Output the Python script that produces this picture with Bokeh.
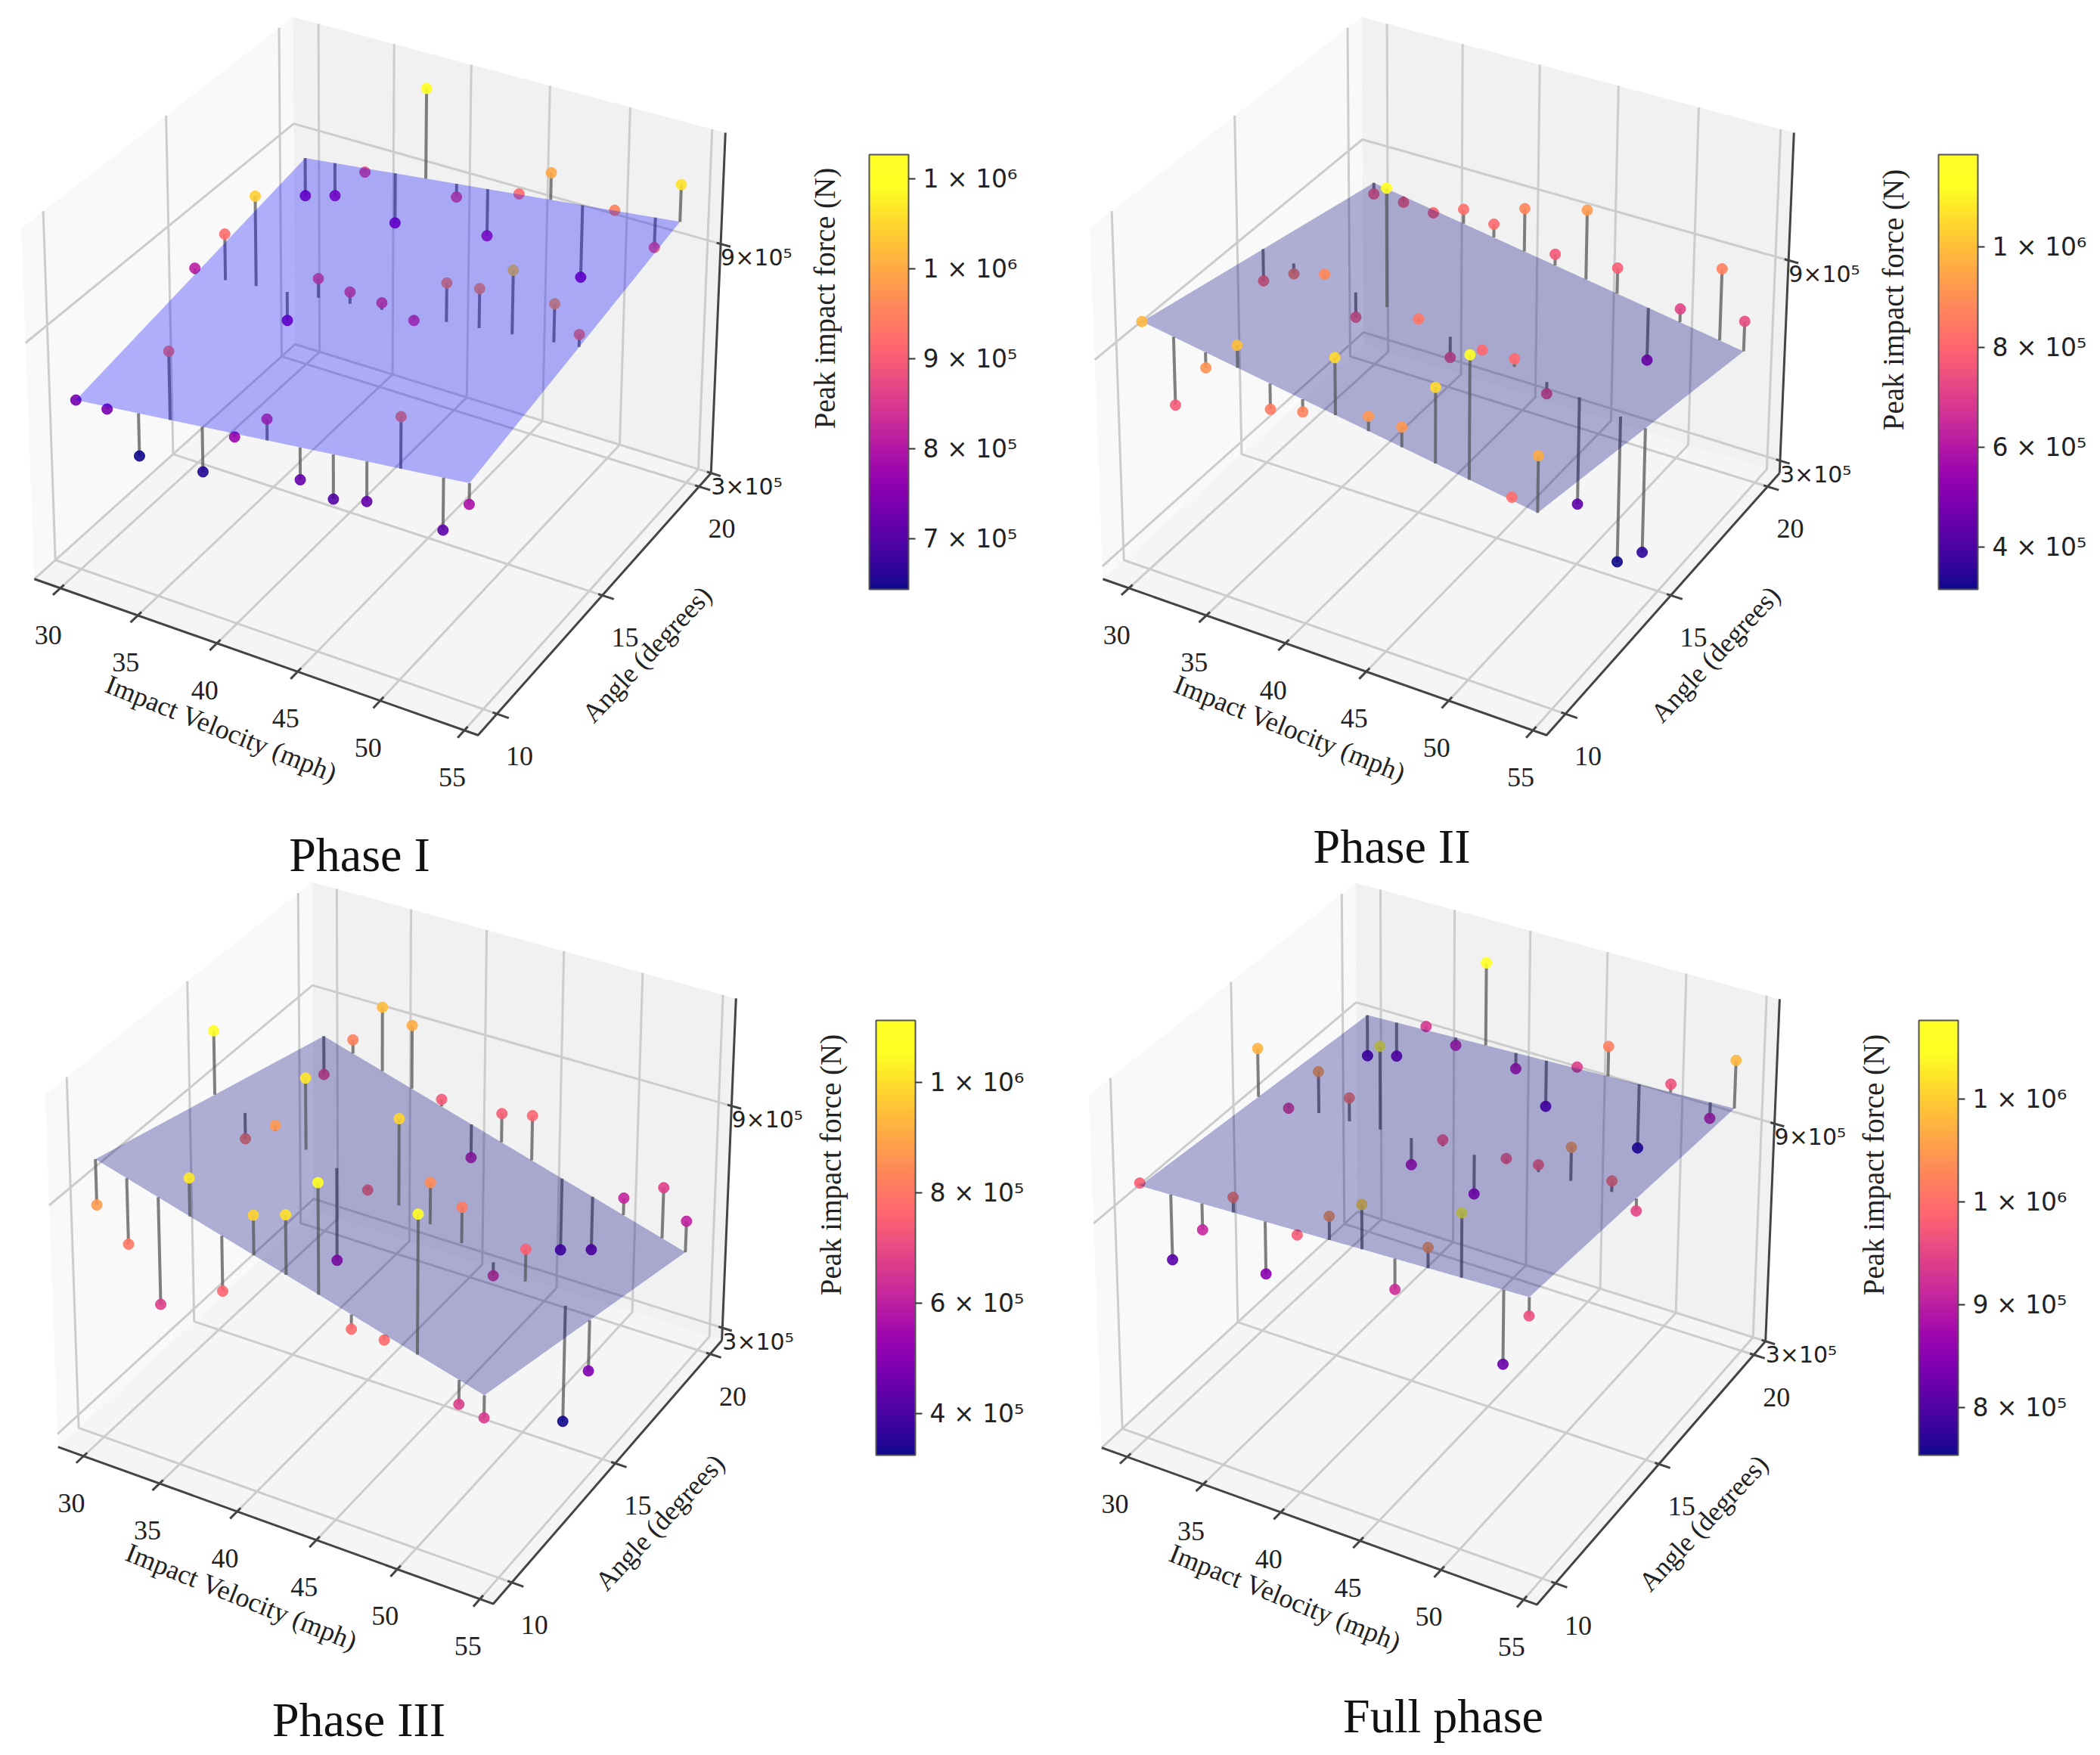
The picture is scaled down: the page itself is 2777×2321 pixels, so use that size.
import numpy as np
from bokeh.plotting import figure, ColumnDataSource
from bokeh.layouts import column, row
from bokeh.models import LinearColorMapper, ColorBar, FixedTicker
from bokeh.palettes import Plasma256
from bokeh.core.properties import value
from bokeh.embed import file_html
from bokeh.resources import INLINE

# ---------- data (force values in units of 1e5 N) ----------
VELOCITY = [30, 32, 34, 36, 38, 40, 42, 44, 46, 48, 50, 52.5, 54]
ANGLE = [10, 15, 20]
VELOCITY_TICKS = [30, 35, 40, 45, 50, 55]
ANGLE_TICKS = [10, 15, 20]
FORCE_TICKS = [3, 9]
FORCE_TICK_LABELS = ["3×10⁵", "9×10⁵"]

FORCE_I_10 = [7.34, 7.37, 6.45, 9.31, 6.58, 7.71, 8.41, 7.18, 6.97, 7.18, 9.50, 7.09, 7.92]
FORCE_I_15 = [8.12, 9.23, 10.42, 7.50, 8.81, 8.71, 8.68, 8.48, 9.66, 9.76, 10.45, 9.93, 9.36]
FORCE_I_20 = [7.58, 7.81, 8.66, 7.55, 11.27, 8.69, 7.91, 9.23, 10.00, 7.54, 9.50, 8.84, 10.61]
PLANE_I = [[7.34, 8.43], [8.58, 9.67]]

FORCE_II_10 = [9.82, 7.73, 9.08, 10.00, 8.49, 8.71, 10.51, 9.18, 9.17, 10.56, 11.73, 8.21, 9.58]
FORCE_II_15 = [8.10, 8.58, 8.84, 7.86, 11.85, 8.37, 7.53, 8.03, 8.06, 7.34, 4.41, 3.09, 3.61]
FORCE_II_20 = [7.91, 7.92, 7.86, 8.23, 8.05, 8.78, 7.68, 9.26, 7.81, 5.32, 7.14, 8.67, 7.33]
PLANE_II = [[9.82, 8.01], [8.25, 6.44]]

FORCE_III_10 = [8.77, 8.02, 6.73, 10.22, 7.61, 9.80, 10.07, 11.12, 7.73, 7.73, 11.12, 6.74, 6.61]
FORCE_III_15 = [10.71, 8.11, 8.71, 10.19, 5.63, 7.76, 9.87, 8.47, 8.08, 6.55, 7.51, 3.30, 4.86]
FORCE_III_20 = [7.06, 8.25, 9.37, 9.11, 7.34, 5.99, 7.44, 7.63, 4.21, 4.48, 6.15, 6.75, 6.04]
PLANE_III = [[9.94, 7.18], [8.12, 5.20]]

FORCE_FULL_10 = [9.81, 8.07, 9.12, 10.22, 8.51, 9.78, 10.52, 11.08, 9.20, 10.53, 11.66, 8.20, 9.63]
FORCE_FULL_15 = [10.74, 9.39, 10.61, 10.16, 11.76, 8.89, 9.80, 8.63, 9.82, 9.91, 10.62, 10.07, 9.49]
FORCE_FULL_20 = [8.03, 8.26, 9.32, 9.04, 11.52, 8.88, 8.09, 9.41, 10.21, 7.70, 9.68, 9.07, 10.80]
PLANE_FULL = [[9.74, 10.10], [9.16, 9.52]]

# ---------- 3D camera: calibrated against the unit box of the axes ----------
VLIM = (28.3, 55.8)
ALIM = (9.15, 20.65)
BOX = [(0, 0, 0), (1, 0, 0), (1, 1, 0), (0, 1, 0), (0, 0, 1), (1, 1, 1), (0, 1, 1)]
BOX_PX = [(47, 768), (629, 972), (941, 623), (389, 454), (28, 298), (960, 177), (385.5, 23)]


def solve_camera():
    rows = []
    for (X, Y, Z), (u, v) in zip(BOX, BOX_PX):
        rows.append([X, Y, Z, 1, 0, 0, 0, 0, -u * X, -u * Y, -u * Z, -u])
        rows.append([0, 0, 0, 0, X, Y, Z, 1, -v * X, -v * Y, -v * Z, -v])
    _, _, vt = np.linalg.svd(np.array(rows, dtype=float))
    return vt[-1].reshape(3, 4)


CAM = solve_camera()


def vivid(hex_color):
    r, g, b = int(hex_color[1:3], 16), int(hex_color[3:5], 16), int(hex_color[5:7], 16)
    return "#%02x%02x%02x" % (min(255, int(r * 1.18)), min(255, int(g * 1.18)), min(255, int(b * 1.05)))


PALETTE = [vivid(c) for c in Plasma256]

PANELS = [
    dict(name="Phase I", f=[FORCE_I_10, FORCE_I_15, FORCE_I_20], plane=PLANE_I, plane_color="blue",
         zlim=(3.0, 11.8), view=(1, 0, 1, 0), on_top=False, clim=(6.44, 11.27),
         cticks={7: "7 × 10⁵", 8: "8 × 10⁵", 9: "9 × 10⁵", 10: "1 × 10⁶", 11: "1 × 10⁶"},
         frame=(0, 0, 1389, 1166), bar=(1149, 204, 52, 575), ctitle=(1090, 394), title=(475, 1130)),
    dict(name="Phase II", f=[FORCE_II_10, FORCE_II_15, FORCE_II_20], plane=PLANE_II, plane_color="navy",
         zlim=(2.62, 12.68), view=(1, 1413, 1, 0), on_top=True, clim=(3.16, 11.85),
         cticks={4: "4 × 10⁵", 6: "6 × 10⁵", 8: "8 × 10⁵", 10: "1 × 10⁶"},
         frame=(1389, 0, 1380, 1166), bar=(2563, 204, 52, 575), ctitle=(2503, 396), title=(1840, 1119)),
    dict(name="Phase III", f=[FORCE_III_10, FORCE_III_15, FORCE_III_20], plane=PLANE_III, plane_color="navy",
         zlim=(2.65, 11.8), view=(0.981, 32.2, 1.005, 1144), on_top=True, clim=(3.24, 11.12),
         cticks={4: "4 × 10⁵", 6: "6 × 10⁵", 8: "8 × 10⁵", 10: "1 × 10⁶"},
         frame=(0, 1166, 1389, 1147), bar=(1158, 1349, 52, 575), ctitle=(1098, 1540), title=(474, 2274)),
    dict(name="Full phase", f=[FORCE_FULL_10, FORCE_FULL_15, FORCE_FULL_20], plane=PLANE_FULL, plane_color="navy",
         zlim=(3.0, 12.3), view=(0.981, 1412.3, 1.005, 1145), on_top=False, clim=(7.54, 11.76),
         cticks={8: "8 × 10⁵", 9: "9 × 10⁵", 10: "1 × 10⁶", 11: "1 × 10⁶"},
         frame=(1389, 1166, 1380, 1147), bar=(2537, 1349, 52, 575), ctitle=(2477, 1540), title=(1908, 2269)),
]


def build_panel(cfg):
    x0, y0, w, h = cfg["frame"]
    p = figure(width=w, height=h, x_range=(x0, x0 + w), y_range=(y0 + h, y0),
               x_axis_location=None, y_axis_location=None, toolbar_location=None,
               output_backend="svg", min_border=0, outline_line_color=None,
               background_fill_color="white", border_fill_color="white")
    p.grid.visible = False
    zlim = cfg["zlim"]
    sx, tx, sy, ty = cfg["view"]

    def proj(v, a, z):
        b = np.array([(v - VLIM[0]) / (VLIM[1] - VLIM[0]),
                      (a - ALIM[0]) / (ALIM[1] - ALIM[0]),
                      (z - zlim[0]) / (zlim[1] - zlim[0]), 1.0])
        q = CAM @ b
        return sx * q[0] / q[2] + tx, sy * q[1] / q[2] + ty

    def path(pts):
        c = [proj(*pt) for pt in pts]
        return [i[0] for i in c], [i[1] for i in c]

    v0, v1 = VLIM
    a0, a1 = ALIM
    z0, z1 = zlim

    # panes
    for pts, col in [([(v0, a0, z0), (v0, a0, z1), (v0, a1, z1), (v0, a1, z0)], "#f9f9f9"),
                     ([(v0, a1, z0), (v0, a1, z1), (v1, a1, z1), (v1, a1, z0)], "#f1f1f1"),
                     ([(v0, a0, z0), (v1, a0, z0), (v1, a1, z0), (v0, a1, z0)], "#f5f5f5")]:
        xs, ys = path(pts)
        p.patch(xs, ys, fill_color=col, line_color=None)

    # grid lines
    gx, gy = [], []
    for v in VELOCITY_TICKS:
        xs, ys = path([(v, a0, z0), (v, a1, z0), (v, a1, z1)])
        gx.append(xs); gy.append(ys)
    for a in ANGLE_TICKS:
        xs, ys = path([(v1, a, z0), (v0, a, z0), (v0, a, z1)])
        gx.append(xs); gy.append(ys)
    for z in FORCE_TICKS:
        xs, ys = path([(v0, a0, z), (v0, a1, z), (v1, a1, z)])
        gx.append(xs); gy.append(ys)
    p.multi_line(gx, gy, line_color="#cccccc", line_width=3)

    # axes and ticks
    ax, ay = [], []
    for seg in ([(v0, a0, z0), (v1, a0, z0), (v1, a1, z0)], [(v1, a1, z0), (v1, a1, z1)]):
        xs, ys = path(seg)
        ax.append(xs); ay.append(ys)
    for v in VELOCITY_TICKS:
        xs, ys = path([(v, a0 - 0.3, z0), (v, a0 + 0.15, z0)])
        ax.append(xs); ay.append(ys)
    for a in ANGLE_TICKS:
        xs, ys = path([(v1 - 0.25, a, z0), (v1 + 0.7, a, z0)])
        ax.append(xs); ay.append(ys)
    for z in FORCE_TICKS:
        xs, ys = path([(v1 - 0.25, a1, z), (v1 + 0.6, a1, z)])
        ax.append(xs); ay.append(ys)
    p.multi_line(ax, ay, line_color="#444444", line_width=3)

    # tick and axis labels
    serif = value("Liberation Serif")
    pos = [proj(v, a0, z0) for v in VELOCITY_TICKS]
    p.text([c[0] - 16 for c in pos], [c[1] + 62 for c in pos], text=[str(v) for v in VELOCITY_TICKS],
           text_font=serif, text_font_size=value("36px"), text_color="#222222",
           text_align="center", text_baseline="middle")
    pos = [proj(v1, a, z0) for a in ANGLE_TICKS]
    p.text([c[0] + 30 for c in pos], [c[1] + 56 for c in pos], text=[str(a) for a in ANGLE_TICKS],
           text_font=serif, text_font_size=value("36px"), text_color="#222222",
           text_align="center", text_baseline="middle")
    pos = [proj(v1, a1, z) for z in FORCE_TICKS]
    p.text([c[0] for c in pos], [c[1] + 18 for c in pos], text=FORCE_TICK_LABELS,
           text_font=value("DejaVu Sans"), text_font_size=value("30px"), text_color="#222222",
           text_align="left", text_baseline="middle")
    c = proj(40, a0, z0)
    p.text([c[0] + 6], [c[1] + 113], text=["Impact Velocity (mph)"], angle=np.radians(-21.7),
           text_font=serif, text_font_size=value("36px"), text_color="#222222",
           text_align="center", text_baseline="middle")
    c = proj(v1, 15, z0)
    p.text([c[0] + 59], [c[1] + 78], text=["Angle (degrees)"], angle=np.radians(46.9),
           text_font=serif, text_font_size=value("36px"), text_color="#222222",
           text_align="center", text_baseline="middle")

    # data
    mapper = LinearColorMapper(palette=PALETTE, low=cfg["clim"][0], high=cfg["clim"][1])
    pl = np.array(cfg["plane"], dtype=float)

    def plane_z(v, a):
        s = (v - VELOCITY[0]) / (VELOCITY[-1] - VELOCITY[0])
        t = (a - ANGLE[0]) / (ANGLE[-1] - ANGLE[0])
        return (1 - t) * ((1 - s) * pl[0, 0] + s * pl[0, 1]) + t * ((1 - s) * pl[1, 0] + s * pl[1, 1])

    rec = []
    for a, vals in zip(ANGLE, cfg["f"]):
        for v, f in zip(VELOCITY, vals):
            rec.append((v, a, f, plane_z(v, a)))

    def draw(items):
        if not items:
            return
        sxs, sys_, sx0, sy0, fs = [], [], [], [], []
        for v, a, f, pz in items:
            cx, cy = proj(v, a, f)
            ex, ey = proj(v, a, pz)
            sxs.append(cx); sys_.append(cy); fs.append(f)
            sx0.append([cx, ex]); sy0.append([cy, ey])
        p.multi_line(sx0, sy0, line_color="#555555", line_alpha=0.75, line_width=4)
        src = ColumnDataSource(dict(x=sxs, y=sys_, force=fs))
        p.scatter("x", "y", source=src, size=14, marker="circle",
                  fill_color={"field": "force", "transform": mapper},
                  line_color={"field": "force", "transform": mapper}, fill_alpha=0.9, line_alpha=0.9)

    if cfg["on_top"]:
        draw([r for r in rec if r[2] < r[3]])
    else:
        draw(rec)
    xs, ys = path([(VELOCITY[0], ANGLE[0], pl[0, 0]), (VELOCITY[-1], ANGLE[0], pl[0, 1]),
                   (VELOCITY[-1], ANGLE[-1], pl[1, 1]), (VELOCITY[0], ANGLE[-1], pl[1, 0])])
    p.patch(xs, ys, fill_color=cfg["plane_color"], fill_alpha=0.3, line_color=None)
    if cfg["on_top"]:
        draw([r for r in rec if r[2] >= r[3]])

    # colour bar
    bx, by, bw, bh = cfg["bar"]
    cb = ColorBar(color_mapper=mapper, ticker=FixedTicker(ticks=list(cfg["cticks"].keys())),
                  major_label_overrides={float(k): t for k, t in cfg["cticks"].items()},
                  location=(bx - x0, y0 + h - (by + bh)), width=bw, height=bh, padding=0,
                  major_tick_in=0, major_tick_out=9, major_tick_line_color="#333333", major_tick_line_width=2,
                  bar_line_color="#555555", bar_line_width=2, label_standoff=10,
                  major_label_text_font="DejaVu Sans", major_label_text_font_size="33px",
                  major_label_text_color="#222222", background_fill_alpha=0, border_line_color=None)
    p.add_layout(cb, "center")
    tx_, ty_ = cfg["ctitle"]
    p.text([tx_], [ty_], text=["Peak impact force (N)"], angle=np.pi / 2,
           text_font=serif, text_font_size=value("39px"), text_color="#222222",
           text_align="center", text_baseline="middle")
    tx_, ty_ = cfg["title"]
    p.text([tx_], [ty_], text=[cfg["name"]], text_font=serif, text_font_size=value("64px"),
           text_color="#111111", text_align="center", text_baseline="middle")
    return p


figs = [build_panel(c) for c in PANELS]
layout = column(row(figs[0], figs[1], spacing=0), row(figs[2], figs[3], spacing=0), spacing=0)
open("out.html", "w").write(file_html(layout, INLINE))
